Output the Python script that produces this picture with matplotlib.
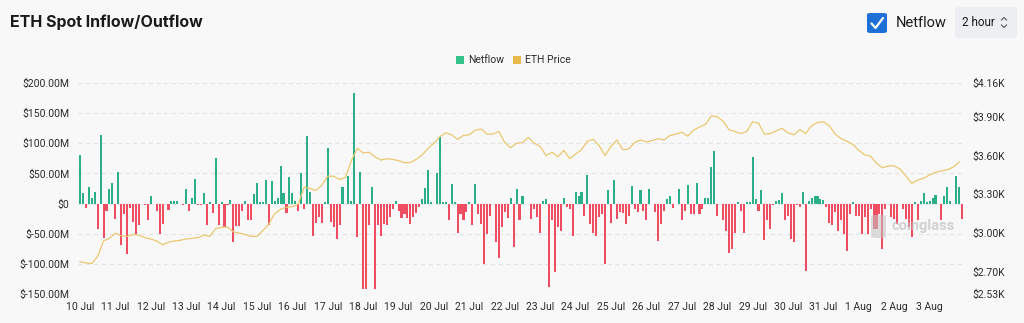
import numpy as np
import matplotlib
matplotlib.use("Agg")
import matplotlib.pyplot as plt
from matplotlib.patches import FancyBboxPatch, Rectangle
from matplotlib.lines import Line2D

plt.rcParams['font.family'] = ['Roboto', 'DejaVu Sans']

# 2-hour netflow, $M, from 10 Jul 00:00
netflow = [
    80, 17, -7, 28, 9, 20, -43, 113, -57, -13, 24, 34, -25, 52, -68, -18, -83, -8, -30, -50,
    -35, 0, -2, -28, 13, 0, -12, -50, -34, 0, -10, 4, 4, 4, 0, -2, 24, -12, 10, 41,
    -3, -3, 18, -35, 3, -15, 75, -35, 3, -39, -3, 6, -64, -37, -37, -12, 4, -28, -28, 16,
    34, 2, 2, 39, -35, 37, 5, 10, 62, 18, -16, 44, 18, 4, -13, 51, -9, 112, 19, -54,
    -33, -23, -32, 2, 92, -31, -39, -59, -35, 27, 0, 45, 4, 183, -56, 53, -141, -141, -35, 27,
    -141, -35, -54, -34, -35, -23, -9, 4, -13, -24, -17, -24, -34, -23, -16, -6, 8, 26, 56, 2,
    0, 51, 110, 3, 3, -27, 33, 2, -49, -17, -27, -14, 2, -36, 33, -17, -34, -100, -50, -20,
    0, -64, -91, -39, -14, -24, 9, -72, 24, -28, 12, 0, 0, -25, -9, -23, -48, 4, 7, -139,
    -28, -114, -39, -46, 10, -5, -9, -53, 19, 12, 20, -20, 47, -34, -48, -53, -23, -17, -101, 22,
    -33, 39, -25, -14, -16, -34, -20, 29, -9, -14, 22, -12, -28, 24, 0, -14, -62, -34, -12, 8,
    12, -7, 0, 24, -27, -12, 30, -18, -18, 34, -18, -9, 10, 9, 61, 87, -20, 0, -27, -45,
    -82, -75, -48, 2, -12, -48, 2, 2, 78, 8, -12, 22, -60, -27, -42, -3, 4, 6, 18, -27,
    -20, -59, -63, -3, -5, 20, -112, 4, 9, 12, 12, 8, 6, -6, -33, -35, -14, -46, -28, -51,
    -79, -17, 2, -21, -20, -50, -23, -50, -9, -42, -42, -17, -75, -9, 0, -23, -25, -34, 0, -9,
    -25, -39, -55, 2, -28, 4, 18, 2, 5, 10, 15, 0, -27, 13, 28, 4, 0, 45, 28, -25,
]

# ETH price, $K, every 4 hours from 10 Jul 00:00
eth_price = [
    2.78, 2.77, 2.765, 2.82, 2.94, 2.96, 3.00, 2.98, 2.975, 2.99,
    2.985, 2.965, 2.955, 2.94, 2.91, 2.93, 2.94, 2.945, 2.955, 2.96,
    2.965, 2.985, 2.975, 3.035, 3.045, 3.048, 3.01, 3.00, 2.99, 2.975,
    2.975, 3.02, 3.07, 3.15, 3.185, 3.20, 3.205, 3.225, 3.355, 3.345,
    3.33, 3.37, 3.44, 3.44, 3.415, 3.43, 3.56, 3.655, 3.62, 3.625,
    3.59, 3.565, 3.575, 3.57, 3.56, 3.545, 3.545, 3.57, 3.605, 3.655,
    3.695, 3.745, 3.775, 3.76, 3.725, 3.755, 3.76, 3.795, 3.805, 3.765,
    3.765, 3.785, 3.70, 3.66, 3.695, 3.70, 3.74, 3.695, 3.67, 3.60,
    3.625, 3.59, 3.64, 3.575, 3.61, 3.645, 3.71, 3.725, 3.675, 3.60,
    3.67, 3.72, 3.645, 3.65, 3.70, 3.72, 3.705, 3.715, 3.73, 3.72,
    3.755, 3.765, 3.78, 3.75, 3.795, 3.82, 3.84, 3.905, 3.90, 3.865,
    3.80, 3.785, 3.77, 3.785, 3.86, 3.85, 3.765, 3.77, 3.79, 3.81,
    3.775, 3.76, 3.80, 3.77, 3.83, 3.855, 3.86, 3.83, 3.765, 3.73,
    3.71, 3.685, 3.64, 3.605, 3.595, 3.54, 3.505, 3.52, 3.52, 3.495,
    3.44, 3.385, 3.41, 3.425, 3.45, 3.47, 3.48, 3.49, 3.51, 3.55,
]

day_labels = ['10 Jul', '11 Jul', '12 Jul', '13 Jul', '14 Jul', '15 Jul', '16 Jul', '17 Jul',
              '18 Jul', '19 Jul', '20 Jul', '21 Jul', '22 Jul', '23 Jul', '24 Jul', '25 Jul',
              '26 Jul', '27 Jul', '28 Jul', '29 Jul', '30 Jul', '31 Jul', '1 Aug', '2 Aug', '3 Aug']

flow_ticks = [-150, -100, -50, 0, 50, 100, 150, 200]
flow_labels = ['$-150.00M', '$-100.00M', '$-50.00M', '$0', '$50.00M', '$100.00M', '$150.00M', '$200.00M']
price_ticks = [2.53, 2.70, 3.00, 3.30, 3.60, 3.90, 4.16]
price_labels = ['$2.53K', '$2.70K', '$3.00K', '$3.30K', '$3.60K', '$3.90K', '$4.16K']

BG = '#F8F8F8'
GREEN = '#2BAF89'
RED = '#EE4D62'
GOLD = '#EBC870'
TXT = '#2B2B2B'

W, H = 1024, 323
fig = plt.figure(figsize=(W / 100, H / 100), dpi=100, facecolor=BG)


def fx(x):
    return x / W


def fy(y):
    return 1 - y / H


ax = fig.add_axes([fx(77.9), fy(294), fx(965) - fx(77.9), fy(83) - fy(294)])
ax.set_facecolor(BG)

idx = np.arange(len(netflow))
vals = np.array(netflow, dtype=float)
colors = [GREEN if v >= 0 else RED for v in vals]
ax.bar(idx, vals, width=0.7, color=colors, linewidth=0, zorder=3)

ax.set_ylim(-150, 200)
ax.set_yticks(flow_ticks)
ax.set_yticklabels(flow_labels)
ax.set_xlim(-0.7, 300)
ax.set_xticks(np.arange(len(day_labels)) * 12)
ax.set_xticklabels(day_labels)
ax.grid(axis='y', color='#E4E4E4', linestyle=(0, (4, 3)), linewidth=0.8, zorder=0)
ax.tick_params(length=0, labelsize=7.5, labelcolor=TXT)
ax.tick_params(axis='x', pad=6)
ax.tick_params(axis='y', pad=6)
for s in ax.spines.values():
    s.set_visible(False)

ax2 = ax.twinx()
price_idx = np.arange(len(eth_price)) * 2
ax2.plot(price_idx, eth_price, color=GOLD, linewidth=0.9, zorder=4)
ax2.set_ylim(2.53, 4.16)
ax2.set_yticks(price_ticks)
ax2.set_yticklabels(price_labels)
ax2.tick_params(length=0, labelsize=7.5, labelcolor=TXT, pad=5)
for s in ax2.spines.values():
    s.set_visible(False)

# watermark: logo block + name
fig.patches.append(FancyBboxPatch((fx(871), fy(238)), fx(15), 23 / H,
                                  boxstyle='round,pad=0,rounding_size=0.004',
                                  transform=fig.transFigure, facecolor='#C4C4C4',
                                  edgecolor='none', alpha=0.55, zorder=6))
fig.text(fx(892), fy(226), 'coinglass', fontsize=10.5, fontweight='bold',
         color='#BDBDBD', alpha=0.65, va='center', ha='left', zorder=6)

# title
fig.text(fx(10), fy(22), 'ETH Spot Inflow/Outflow', fontsize=11.5, fontweight='bold',
         color='#1A1A1A', va='center', ha='left', family=['Inter', 'DejaVu Sans'])

# legend
fig.patches.append(Rectangle((fx(456), fy(64)), fx(8), 8 / H, transform=fig.transFigure,
                             facecolor='#34C48B', edgecolor='none'))
fig.text(fx(468), fy(60), 'Netflow', fontsize=7.5, color=TXT, va='center', ha='left')
fig.patches.append(Rectangle((fx(513), fy(64)), fx(8), 8 / H, transform=fig.transFigure,
                             facecolor='#E9B949', edgecolor='none'))
fig.text(fx(525), fy(60), 'ETH Price', fontsize=7.5, color=TXT, va='center', ha='left')

# checkbox
fig.patches.append(FancyBboxPatch((fx(867), fy(33)), fx(20), 20 / H,
                                  boxstyle='round,pad=0,rounding_size=0.004',
                                  transform=fig.transFigure, facecolor='#1F6FD8',
                                  edgecolor='none'))
fig.lines.append(Line2D([fx(871.5), fx(875.5), fx(883)], [fy(23.5), fy(28), fy(18)],
                        transform=fig.transFigure, color='white', linewidth=1.6,
                        solid_capstyle='round', solid_joinstyle='round'))
fig.text(fx(896), fy(23), 'Netflow', fontsize=10.5, color='#1A1A1A', va='center', ha='left')

# interval selector
fig.patches.append(FancyBboxPatch((fx(955), fy(38)), fx(62), 31 / H,
                                  boxstyle='round,pad=0,rounding_size=0.006',
                                  transform=fig.transFigure, facecolor='#ECEEF1',
                                  edgecolor='none'))
fig.text(fx(962), fy(22.5), '2 hour', fontsize=8.5, color='#1A1A1A', va='center', ha='left')
fig.lines.append(Line2D([fx(1001.5), fx(1004), fx(1006.5)], [fy(20), fy(17.5), fy(20)],
                        transform=fig.transFigure, color='#555555', linewidth=0.8))
fig.lines.append(Line2D([fx(1001.5), fx(1004), fx(1006.5)], [fy(25), fy(27.5), fy(25)],
                        transform=fig.transFigure, color='#555555', linewidth=0.8))

fig.savefig('out.png', dpi=100, facecolor=BG)
